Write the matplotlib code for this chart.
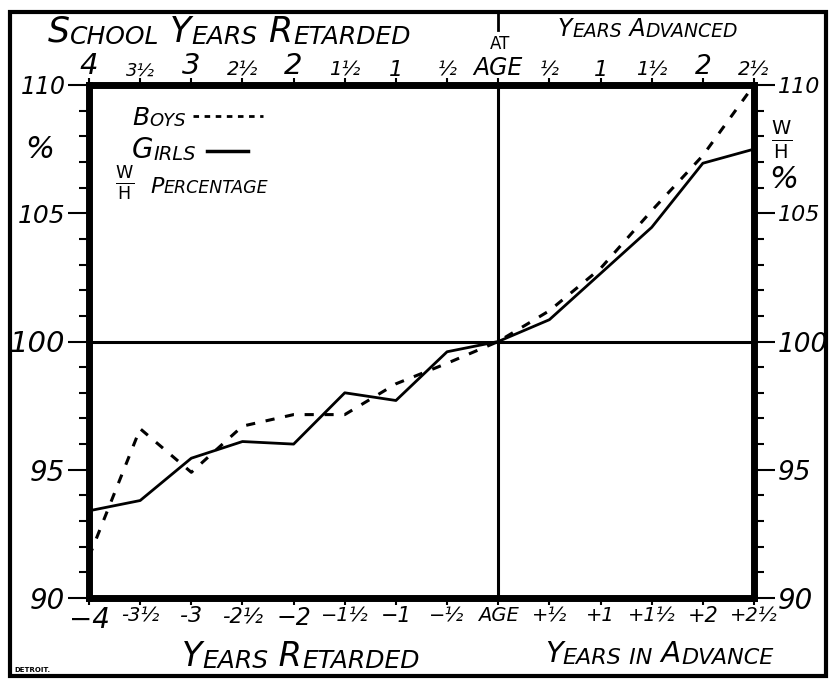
import matplotlib
matplotlib.use("Agg")
import matplotlib.pyplot as plt
import matplotlib.transforms as mtransforms
from matplotlib.patches import Rectangle

# years retarded (-) / advanced (+) relative to normal school age
years = [-4, -3.5, -3, -2.5, -2, -1.5, -1, -0.5, 0, 0.5, 1, 1.5, 2, 2.5]
# W/H percentage
boys = [91.6, 96.6, 94.9, 96.7, 97.15, 97.15, 98.35, 99.15, 100.0,
        101.2, 102.85, 105.1, 107.25, 110.0]
girls = [93.4, 93.8, 95.45, 96.1, 96.0, 98.0, 97.7, 99.6, 100.0,
         100.85, 102.65, 104.45, 106.95, 107.5]

top_labels = ["4", "3½", "3", "2½", "2", "1½", "1", "½", "AGE",
              "½", "1", "1½", "2", "2½"]
top_sizes = [21, 13, 21, 14, 21, 14, 16, 14, 17, 14, 16, 14, 19, 14]
bottom_labels = ["−4", "-3½", "-3", "-2½", "−2", "−1½", "−1", "−½", "AGE",
                 "+½", "+1", "+1½", "+2", "+2½"]
bottom_sizes = [20, 14, 16, 15, 17, 14, 15, 14, 14, 14, 14, 14, 15, 14]
y_ticks = [90, 95, 100, 105, 110]
y_sizes_left = [20, 20, 21, 18, 17]
y_sizes_right = [20, 19, 19, 16, 16]

W, H = 830, 680
FONT = "DejaVu Sans"


def px(x, y):
    # pixel position (from top-left) -> figure fraction
    return x / W, 1 - y / H


fig = plt.figure(figsize=(8.3, 6.8), dpi=100)

# outer frame
x0, y0 = px(10, 676)
x1, y1 = px(826, 12)
fig.patches.append(Rectangle((x0, y0), x1 - x0, y1 - y0, fill=False,
                             lw=3, ec="black", transform=fig.transFigure))

l, t = px(89, 85)
r, b = px(754, 598)
ax = fig.add_axes([l, b, r - l, t - b])
ax.set_xlim(-4, 2.5)
ax.set_ylim(90, 110)
for s in ax.spines.values():
    s.set_linewidth(5)

ax.axhline(100, color="black", lw=2.2)
ax.axvline(0, color="black", lw=2.2)

ax.plot(years, girls, color="black", lw=2)
ax.plot(years, boys, color="black", lw=2.2, dashes=(3, 3.5))

# y ticks both sides
ax.set_yticks(y_ticks)
ax.set_yticks(range(90, 111), minor=True)
ax.tick_params(axis="y", which="major", direction="out", length=15, width=1.5,
               left=True, right=True, labelleft=True, labelright=True, pad=2)
ax.tick_params(axis="y", which="minor", direction="out", length=7, width=1.5,
               left=True, right=True)
for tk, s1, s2 in zip(ax.yaxis.get_major_ticks(), y_sizes_left, y_sizes_right):
    for lab, sz in ((tk.label1, s1), (tk.label2, s2)):
        lab.set_fontsize(sz)
        lab.set_fontstyle("italic")
        lab.set_family(FONT)

# x ticks bottom and top
ax.set_xticks(years)
ax.set_xticklabels(bottom_labels)
ax.tick_params(axis="x", direction="out", length=5, width=1.5, top=True,
               bottom=True, pad=1)
for lab, sz in zip(ax.get_xticklabels(), bottom_sizes):
    lab.set_fontsize(sz)
    lab.set_fontstyle("italic")
    lab.set_family(FONT)

trans = mtransforms.blended_transform_factory(ax.transData, ax.transAxes)
for xv, s, sz in zip(years, top_labels, top_sizes):
    ax.text(xv, 1.01, s, transform=trans, ha="center", va="bottom",
            fontsize=sz, style="italic", family=FONT)

# short divider above AGE
ax.plot([0, 0], [1.107, 1.142], transform=trans, color="black", lw=2,
        clip_on=False)


def caps(x, y, words, big, small):
    # small caps: first letter of each word large, rest small
    fx, fy = px(x, y)
    prev = None
    for i, w in enumerate(words):
        if w.startswith("~"):
            parts = [((" " if i else "") + w[1:], small)]
        else:
            parts = [((" " if i else "") + w[0], big), (w[1:], small)]
        for s, size in parts:
            if not s:
                continue
            if prev is None:
                prev = fig.text(fx, fy, s, fontsize=size, style="italic",
                                family=FONT, va="baseline", ha="left")
            else:
                prev = ax.annotate(s, xy=(1, 0), xycoords=prev,
                                   fontsize=size, style="italic",
                                   family=FONT, va="bottom", ha="left",
                                   annotation_clip=False)
    return prev


caps(48, 42, ["SCHOOL", "YEARS", "RETARDED"], 25, 18)
fig.text(*px(500, 49), "AT", fontsize=12, ha="center", va="baseline",
         family=FONT)
caps(558, 36, ["YEARS", "ADVANCED"], 17, 13.5)

caps(182, 666, ["YEARS", "RETARDED"], 24, 18)
caps(545, 662, ["YEARS", "~IN", "ADVANCE"], 21, 16)
fig.text(*px(14, 672), "DETROIT.", fontsize=5, weight="bold", family=FONT)

# legend text
caps(132, 125, ["BOYS"], 18, 13)
ax.plot([-2.98, -2.3], [108.8, 108.8], color="black", lw=2, dashes=(2, 2))
caps(132, 158, ["GIRLS"], 20, 14)
fig.lines.append(plt.Line2D([px(207, 0)[0], px(248, 0)[0]],
                            [px(0, 151)[1], px(0, 151)[1]], color="black",
                            lw=2.5, transform=fig.transFigure))
fig.text(*px(125, 183), r"$\frac{\mathsf{W}}{\mathsf{H}}$", fontsize=18,
         ha="center", va="center")
caps(150, 193, ["PERCENTAGE"], 16, 12.5)

# side labels
fig.text(*px(40, 150), "%", fontsize=22, style="italic", ha="center",
         va="center", family=FONT)
fig.text(*px(782, 140), r"$\frac{\mathsf{W}}{\mathsf{H}}$", fontsize=20,
         ha="center", va="center")
fig.text(*px(784, 180), "%", fontsize=22, style="italic", ha="center",
         va="center", family=FONT)

fig.savefig("out.png", dpi=100)
